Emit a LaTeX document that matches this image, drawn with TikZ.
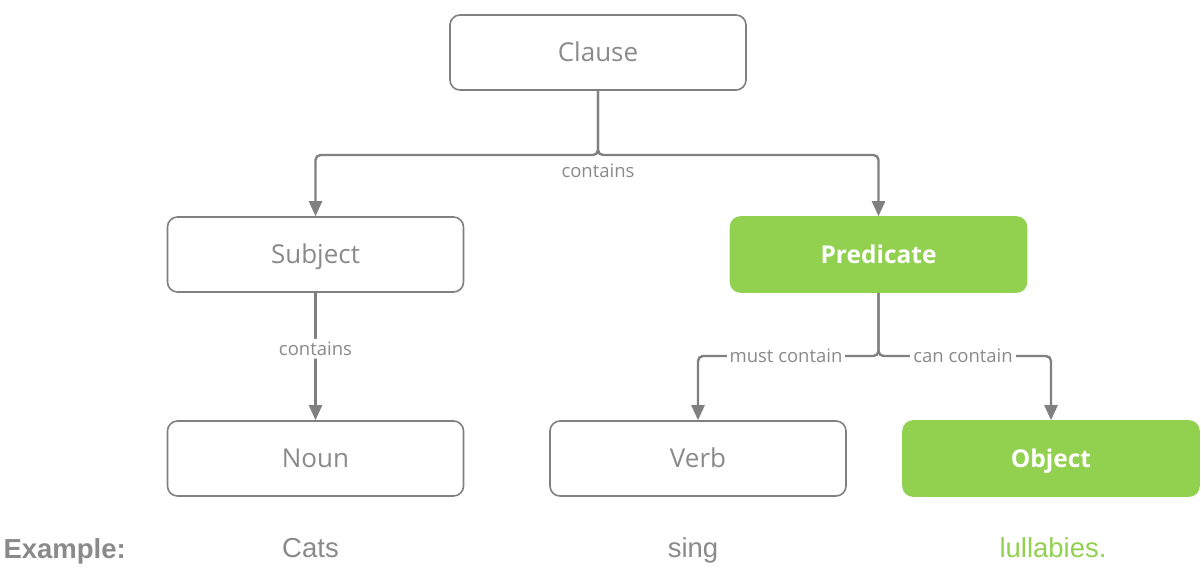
\documentclass[tikz,border=0pt]{standalone}
\usepackage{fontspec}
\usepackage{xcolor}
\usepackage{tikz}
\usetikzlibrary{arrows.meta}
\setmainfont{Open Sans}
\newfontfamily\exfont{Liberation Sans}
\definecolor{linegray}{HTML}{808080}
\definecolor{textgray}{HTML}{8A8A8A}
\definecolor{leafgreen}{HTML}{92D050}
\begin{document}
\begin{tikzpicture}[
  x=1pt, y=-1pt,
  box/.style={draw=linegray, line width=1.6pt, rounded corners=10pt,
              minimum width=296pt, minimum height=75pt, inner sep=0pt,
              text height=18.5pt, text depth=0pt,
              text=textgray, font=\fontsize{26}{29}\selectfont},
  hot/.style={box, draw=leafgreen, fill=leafgreen, text=white, text height=17.5pt,
              font=\fontsize{24.5}{28}\selectfont\bfseries},
  link/.style={draw=linegray, line width=2.4pt, rounded corners=5pt,
               -{Triangle[width=13pt,length=15pt]}},
  lbl/.style={text=textgray, font=\fontsize{18.5}{21}\selectfont, inner sep=3pt},
  ex/.style={text=textgray, text height=19.7pt, text depth=0pt,
             font=\exfont\fontsize{27.5}{31}\selectfont},
]
\useasboundingbox (0,0) rectangle (1201,574);
\node[box] (clause)    at (598,52.5)    {Clause};
\node[box] (subject)   at (315.5,254.5) {Subject};
\node[hot] (predicate) at (878.5,254.5) {Predicate};
\node[box] (noun)      at (315.5,458.5) {Noun};
\node[box] (verb)      at (698,458.5)   {Verb};
\node[hot] (object)    at (1051,458.5)  {Object};

\coordinate (split) at (598,155);
\coordinate (fork)  at (878.5,356);
\draw[link] (clause.south) -- (split) -| (subject.north);
\draw[link] (clause.south) -- (split) -| (predicate.north);
\node[lbl] (lclause) at (598,171) {contains};

\draw[link] (subject) -- (noun) node[lbl, midway, fill=white, pos=0.44] (lsubj) {contains};

\draw[link] (predicate.south) -- (fork) -| (verb.north);
\draw[link] (predicate.south) -- (fork) -| (object.north);
\node[lbl, fill=white] (lmust) at (786,356) {must contain};
\node[lbl, fill=white] (lcan)  at (963,356) {can contain};

\node[ex, font=\exfont\fontsize{27.5}{31}\selectfont\bfseries, anchor=west] (exlabel) at (0,549) {Example:};
\node[ex] (excats) at (310.5,548) {Cats};
\node[ex] (exsing) at (693,548)   {sing};
\node[ex, text=leafgreen] (exlull) at (1053,548) {lullabies.};
\end{tikzpicture}
\end{document}
